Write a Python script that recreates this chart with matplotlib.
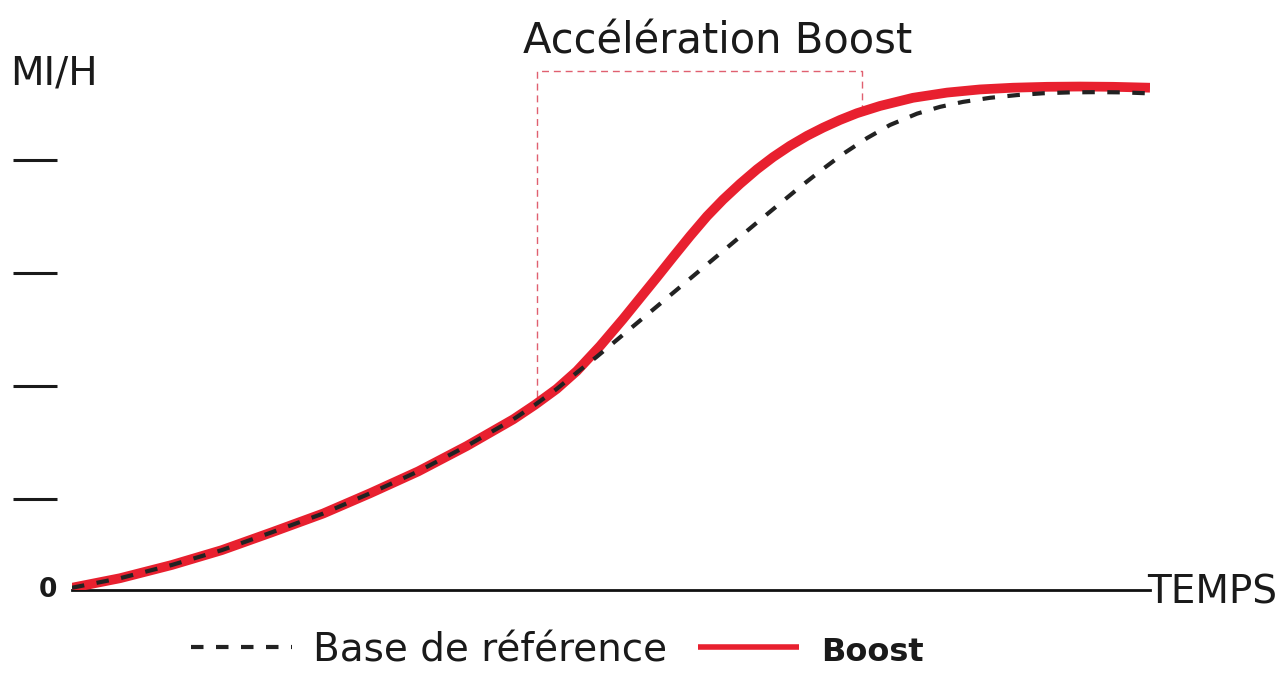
import numpy as np
import matplotlib.pyplot as plt
import matplotlib.transforms as mtransforms

# time (s) and speed values
t_common = [0.0, 0.445, 0.925, 1.389, 1.853, 2.331, 2.764, 3.212, 3.661, 4.094, 4.295, 4.496]
v_common = [0.5, 2.6, 5.52, 8.8, 12.74, 16.9, 21.35, 26.2, 31.79, 37.7, 40.9, 44.4]

t_base = [4.682, 4.867, 5.269, 5.640, 6.011, 6.382, 6.753, 6.967, 7.152, 7.375,
          7.588, 7.839, 8.052, 8.265, 8.516, 8.766, 9.007, 9.258, 9.508, 9.750, 9.972]
v_base = [48.0, 51.5, 59.5, 66.9, 74.3, 81.7, 89.0, 93.0, 96.3, 99.8,
          102.7, 105.2, 106.7, 107.8, 108.7, 109.3, 109.7, 109.9, 109.95, 109.9, 109.7]

t_boost = [4.682, 4.898, 5.111, 5.269, 5.427, 5.575, 5.733, 5.891, 6.039, 6.197,
           6.354, 6.503, 6.660, 6.818, 6.967, 7.124, 7.282, 7.495, 7.801, 8.117,
           8.423, 8.729, 9.045, 9.351, 9.657, 10.0]
v_boost = [48.34, 53.86, 59.82, 64.46, 69.09, 73.51, 78.15, 82.56, 86.2, 89.7,
           92.9, 95.6, 98.1, 100.3, 102.1, 103.8, 105.3, 106.9, 108.7, 109.85,
           110.55, 110.93, 111.13, 111.19, 111.13, 110.93]

yticks = [20, 45, 70, 95]
boost_zone = [4.31, 7.33]   # start / end of the boost window
zone_top = 114.6

RED = '#e8202f'
BLACK = '#222222'

fig = plt.figure(figsize=(12.8, 6.86), dpi=100)
ax = fig.add_axes([72/1280, 96/686, 1078/1280, 566/686])

tb = t_common + t_base
vb = v_common + v_base
tr = t_common + t_boost
vr = v_common + v_boost

lr, = ax.plot(tr, vr, color=RED, lw=7, solid_capstyle='butt', solid_joinstyle='round',
              label='Boost', zorder=3)
lb, = ax.plot(tb, vb, color=BLACK, lw=3, label='Base de référence', zorder=4,
              dash_joinstyle='round')
lb.set_dashes([3, 3])

# boost window outline
x0, x1 = boost_zone
y0 = np.interp(x0, tb, vb) + 1.5
y1 = np.interp(x1, tr, vr)
ax.plot([x0, x0, x1, x1], [y0, zone_top, zone_top, y1], color='#e06070',
        lw=1, linestyle=(0, (5, 3.5)), zorder=2)

ax.set_xlim(0, 10.0)
ax.set_ylim(0, 125)
for s in ['top', 'right', 'left']:
    ax.spines[s].set_visible(False)
ax.spines['bottom'].set_linewidth(2)
ax.spines['bottom'].set_color('#111111')
ax.spines['left'].set_position(('outward', 10.8))
ax.set_xticks([])
ax.set_yticks(yticks)
ax.set_yticklabels([])
ax.tick_params(axis='y', length=31.7, width=2.2, color='#1a1a1a')

trans = mtransforms.blended_transform_factory(ax.transAxes, ax.transData)
ax.text(-0.014, 0, '0', transform=trans, ha='right', va='center',
        fontsize=19, fontweight='bold', color='#1a1a1a')

fig.text(10/1280, 1 - 85/686, 'MI/H', fontsize=28, ha='left', va='baseline', color='#1a1a1a')
fig.text(1147/1280, 1 - 603/686, 'TEMPS', fontsize=28, ha='left', va='baseline', color='#1a1a1a')
fig.text(718/1280, 1 - 53/686, 'Accélération Boost', fontsize=30, ha='center',
         va='baseline', color='#1a1a1a')

leg = ax.legend(handles=[lb, lr], loc='center', bbox_to_anchor=(557/1280, 1 - 650/686),
                bbox_transform=fig.transFigure, ncol=2, frameon=False, fontsize=28,
                handlelength=2.6, handletextpad=0.55, columnspacing=0.8)
leg.get_lines()[1].set_linewidth(4)
leg.get_texts()[1].set_fontweight('bold')
leg.get_texts()[1].set_fontsize(23)
for tx in leg.get_texts():
    tx.set_color('#1a1a1a')

fig.savefig('out.png', dpi=100)
